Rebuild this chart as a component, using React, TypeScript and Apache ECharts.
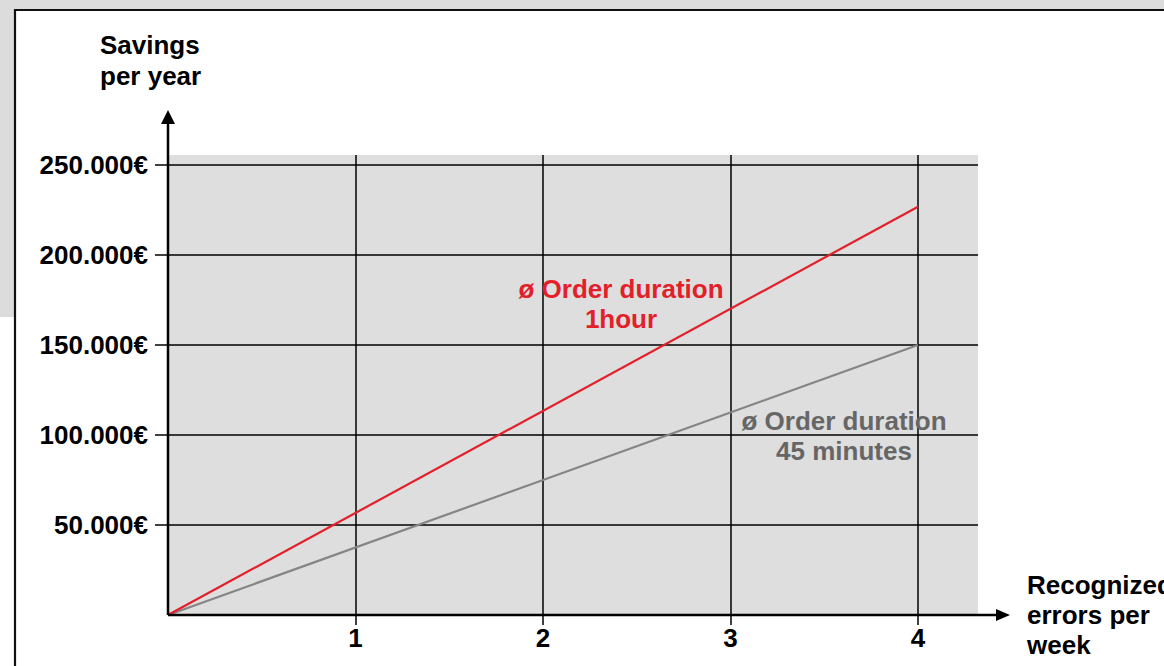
import React, { useEffect, useRef } from "react";
import * as echarts from "echarts";

// Data
const xValues = [0, 4];
const hourSavings = [0, 226800];
const minutes45Savings = [0, 150000];
const yTicks = [50000, 100000, 150000, 200000, 250000];
const xTicks = [1, 2, 3, 4];
const redLabel = "ø Order duration\n1hour";
const greyLabel = "ø Order duration\n45 minutes";
const yTitle = "Savings\nper year";
const xTitle = "Recognized\nerrors per\nweek";

const W = 1164;
const H = 666;
const FONT = "'Liberation Sans', Arial, sans-serif";
const FS = 26;
const RED = "#e3202a";
const GREY_LINE = "#858585";
const GREY_TEXT = "#666666";

const GRID = { left: 168, top: 155, right: 186, bottom: 51 };
const X_MAX = 4.32;
const Y_MAX = 255556;

const fmtEuro = (v: number) => (v === 0 ? "" : `${Math.round(v / 1000)}.000€`);

export default function App() {
  const ref = useRef<HTMLDivElement>(null);
  useEffect(() => {
    if (!ref.current) return;
    const chart = echarts.init(ref.current, undefined, { renderer: "svg" });
    const x0 = GRID.left;
    const y0 = H - GRID.bottom;
    const option: any = {
      animation: false,
      backgroundColor: "#ffffff",
      grid: {
        left: GRID.left,
        top: GRID.top,
        right: GRID.right,
        bottom: GRID.bottom,
        show: true,
        backgroundColor: "#dedede",
        borderWidth: 0,
      },
      xAxis: {
        type: "value",
        min: 0,
        max: X_MAX,
        interval: 1,
        axisLine: { show: false },
        axisTick: {
          show: true,
          length: 10,
          customValues: xTicks,
          lineStyle: { color: "#000", width: 1.5 },
        },
        axisLabel: {
          customValues: xTicks,
          margin: 10,
          fontFamily: FONT,
          fontWeight: "bold",
          fontSize: FS,
          color: "#000",
          formatter: (v: number) => String(v),
        },
        splitLine: {
          show: true,
          lineStyle: { color: "#000", width: 1.5 },
        },
      },
      yAxis: {
        type: "value",
        min: 0,
        max: Y_MAX,
        interval: 50000,
        axisLine: { show: false },
        axisTick: {
          show: true,
          length: 13,
          customValues: yTicks,
          lineStyle: { color: "#000", width: 1.5 },
        },
        axisLabel: {
          customValues: yTicks,
          margin: 20,
          fontFamily: FONT,
          fontWeight: "bold",
          fontSize: FS,
          color: "#000",
          formatter: fmtEuro,
        },
        splitLine: {
          show: true,
          lineStyle: { color: "#000", width: 1.5 },
        },
      },
      series: [
        {
          type: "line",
          name: "45 minutes",
          data: xValues.map((x, i) => [x, minutes45Savings[i]]),
          showSymbol: false,
          lineStyle: { color: GREY_LINE, width: 2.2 },
          z: 3,
        },
        {
          type: "line",
          name: "1hour",
          data: xValues.map((x, i) => [x, hourSavings[i]]),
          showSymbol: false,
          lineStyle: { color: RED, width: 2.2 },
          z: 4,
        },
      ],
      graphic: [
        // outer frame background
        { type: "rect", shape: { x: 0, y: 0, width: W, height: 9 }, style: { fill: "#dcdcdc" }, silent: true },
        { type: "rect", shape: { x: 0, y: 0, width: 14, height: 317 }, style: { fill: "#dcdcdc" }, silent: true },
        { type: "line", shape: { x1: 14, y1: 10, x2: W, y2: 10 }, style: { stroke: "#111", lineWidth: 2.2 }, silent: true },
        { type: "line", shape: { x1: 15, y1: 9, x2: 15, y2: H }, style: { stroke: "#111", lineWidth: 2.2 }, silent: true },
        // axes with arrows
        { type: "line", shape: { x1: x0, y1: y0, x2: x0, y2: 122 }, style: { stroke: "#000", lineWidth: 2.5 }, z: 10, silent: true },
        { type: "polygon", shape: { points: [[x0, 110], [x0 - 7, 124], [x0 + 7, 124]] }, style: { fill: "#000" }, z: 10, silent: true },
        { type: "line", shape: { x1: x0, y1: y0, x2: 998, y2: y0 }, style: { stroke: "#000", lineWidth: 2.5 }, z: 10, silent: true },
        { type: "polygon", shape: { points: [[1010, y0], [996, y0 - 6], [996, y0 + 6]] }, style: { fill: "#000" }, z: 10, silent: true },
        // axis titles
        {
          type: "text",
          x: 100,
          y: 29,
          style: { text: yTitle, fontFamily: FONT, fontWeight: "bold", fontSize: FS, lineHeight: 31, fill: "#000", align: "left", verticalAlign: "top" },
          silent: true,
        },
        {
          type: "text",
          x: 1027,
          y: y0,
          style: { text: xTitle, fontFamily: FONT, fontWeight: "bold", fontSize: FS, lineHeight: 30, fill: "#000", align: "left", verticalAlign: "middle" },
          silent: true,
        },
        // series annotations
        {
          type: "text",
          x: 621,
          y: 304,
          style: { text: redLabel, fontFamily: FONT, fontWeight: "bold", fontSize: FS, lineHeight: 30, fill: RED, align: "center", verticalAlign: "middle" },
          z: 20,
          silent: true,
        },
        {
          type: "text",
          x: 844,
          y: 436,
          style: { text: greyLabel, fontFamily: FONT, fontWeight: "bold", fontSize: FS, lineHeight: 30, fill: GREY_TEXT, align: "center", verticalAlign: "middle" },
          z: 20,
          silent: true,
        },
      ],
    };
    chart.setOption(option);
    return () => chart.dispose();
  }, []);
  return (
    <div
      ref={ref}
      style={{ position: "fixed", left: 0, top: 0, width: W, height: H, background: "#fff" }}
    />
  );
}
